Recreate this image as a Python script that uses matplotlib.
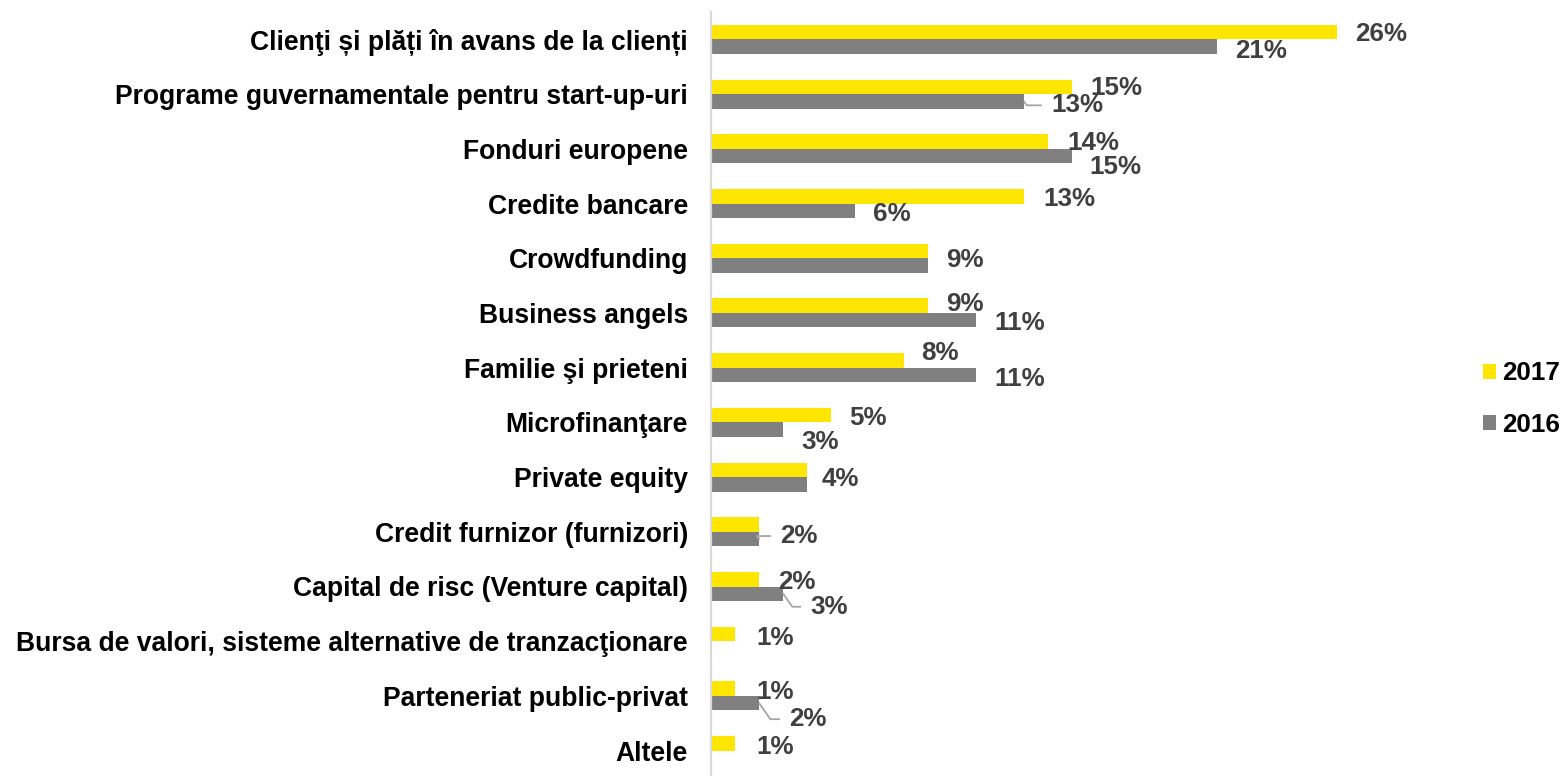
import matplotlib
matplotlib.use("Agg")
import matplotlib.pyplot as plt
from matplotlib.patches import Patch

plt.rcParams['font.family'] = ['Liberation Sans', 'DejaVu Sans']
plt.rcParams['font.weight'] = 'bold'

categories = [
    "Clienţi și plăți în avans de la clienți",
    "Programe guvernamentale pentru start-up-uri",
    "Fonduri europene",
    "Credite bancare",
    "Crowdfunding",
    "Business angels",
    "Familie şi prieteni",
    "Microfinanţare",
    "Private equity",
    "Credit furnizor (furnizori)",
    "Capital de risc (Venture capital)",
    "Bursa de valori, sisteme alternative de tranzacţionare",
    "Parteneriat public-privat",
    "Altele",
]
values_2017 = [26, 15, 14, 13, 9, 9, 8, 5, 4, 2, 2, 1, 1, 1]
values_2016 = [21, 13, 15, 6, 9, 11, 11, 3, 4, 2, 3, 0, 2, 0]
series_names = ["2017", "2016"]

# label layout: (dx, dy, leader) in pixels from bar end (dy positive = down), None = no label
lab17 = [(18, 0, 0), (18, -1, 0), (19, -1, 0), (19, 1, 0), (18, 7, 0), (18, -4, 0), (18, -9, 0),
         (18, 1, 0), (14, 7, 0), None, (19, 1, 0), (21, 2, 0), (21, 1, 0), (21, 2, 0)]
lab16 = [(19, 2, 0), (27, 2, 1), (17, 9, 0), (18, 1, 0), None, (19, 1, 0), (19, 2, 0),
         (18, 10, 0), None, (21, -5, 1), (27, 11, 1), None, (30, 14, 1), None]

YELLOW = "#FFE600"
GRAY = "#808080"
LABEL_COLOR = "#404040"
FS = 18.7
FS_CAT = 19.1
TEXT_SHIFT = 2  # px downward to match baseline placement

W, H = 1562, 776
fig = plt.figure(figsize=(W / 100, H / 100), dpi=100)
ax = fig.add_axes([711 / W, -2 / H, 674 / W, 766 / H])

n = len(categories)
ys = list(range(n))
bh = 0.265
y17 = [y - bh / 2 for y in ys]
y16 = [y + bh / 2 for y in ys]
ax.barh(y17, values_2017, height=bh, color=YELLOW, label=series_names[0])
ax.barh(y16, values_2016, height=bh, color=GRAY, label=series_names[1])

ax.set_ylim(n - 0.5, -0.5)
ax.set_xlim(0, 28)
ax.set_yticks(ys)
ax.set_yticklabels(categories, fontsize=FS_CAT, fontweight='bold', color='black')
ax.tick_params(axis='y', length=0, pad=16.5)
ax.set_xticks([])
for s in ['top', 'right', 'bottom']:
    ax.spines[s].set_visible(False)
ax.spines['left'].set_color('#d9d9d9')
ax.spines['left'].set_linewidth(1.6)


def add_labels(vals, yy, layout):
    for v, y, lay in zip(vals, yy, layout):
        if lay is None:
            continue
        dx, dy, lead = lay
        kw = {}
        if lead:
            kw['arrowprops'] = dict(arrowstyle='-', color='#a6a6a6', lw=1.3,
                                    shrinkA=5, shrinkB=0, relpos=(0, 0.5),
                                    connectionstyle="angle,angleA=0,angleB=-55,rad=0")
        ax.annotate(f"{v}%", xy=(v, y), xytext=(dx, -dy - TEXT_SHIFT), textcoords='offset pixels',
                    ha='left', va='center', fontsize=FS, fontweight='bold',
                    color=LABEL_COLOR, annotation_clip=False, **kw)


add_labels(values_2017, y17, lab17)
add_labels(values_2016, y16, lab16)

handles = [Patch(facecolor=YELLOW, edgecolor='none'), Patch(facecolor=GRAY, edgecolor='none')]
fig.legend(handles, series_names, loc='center left', bbox_to_anchor=(1483 / W, 1 - 399 / H),
           frameon=False, prop={'weight': 'bold', 'size': FS},
           handlelength=0.5, handleheight=0.5, handletextpad=0.25, labelspacing=1.05,
           borderpad=0, borderaxespad=0)

fig.savefig("out.png", dpi=100)
